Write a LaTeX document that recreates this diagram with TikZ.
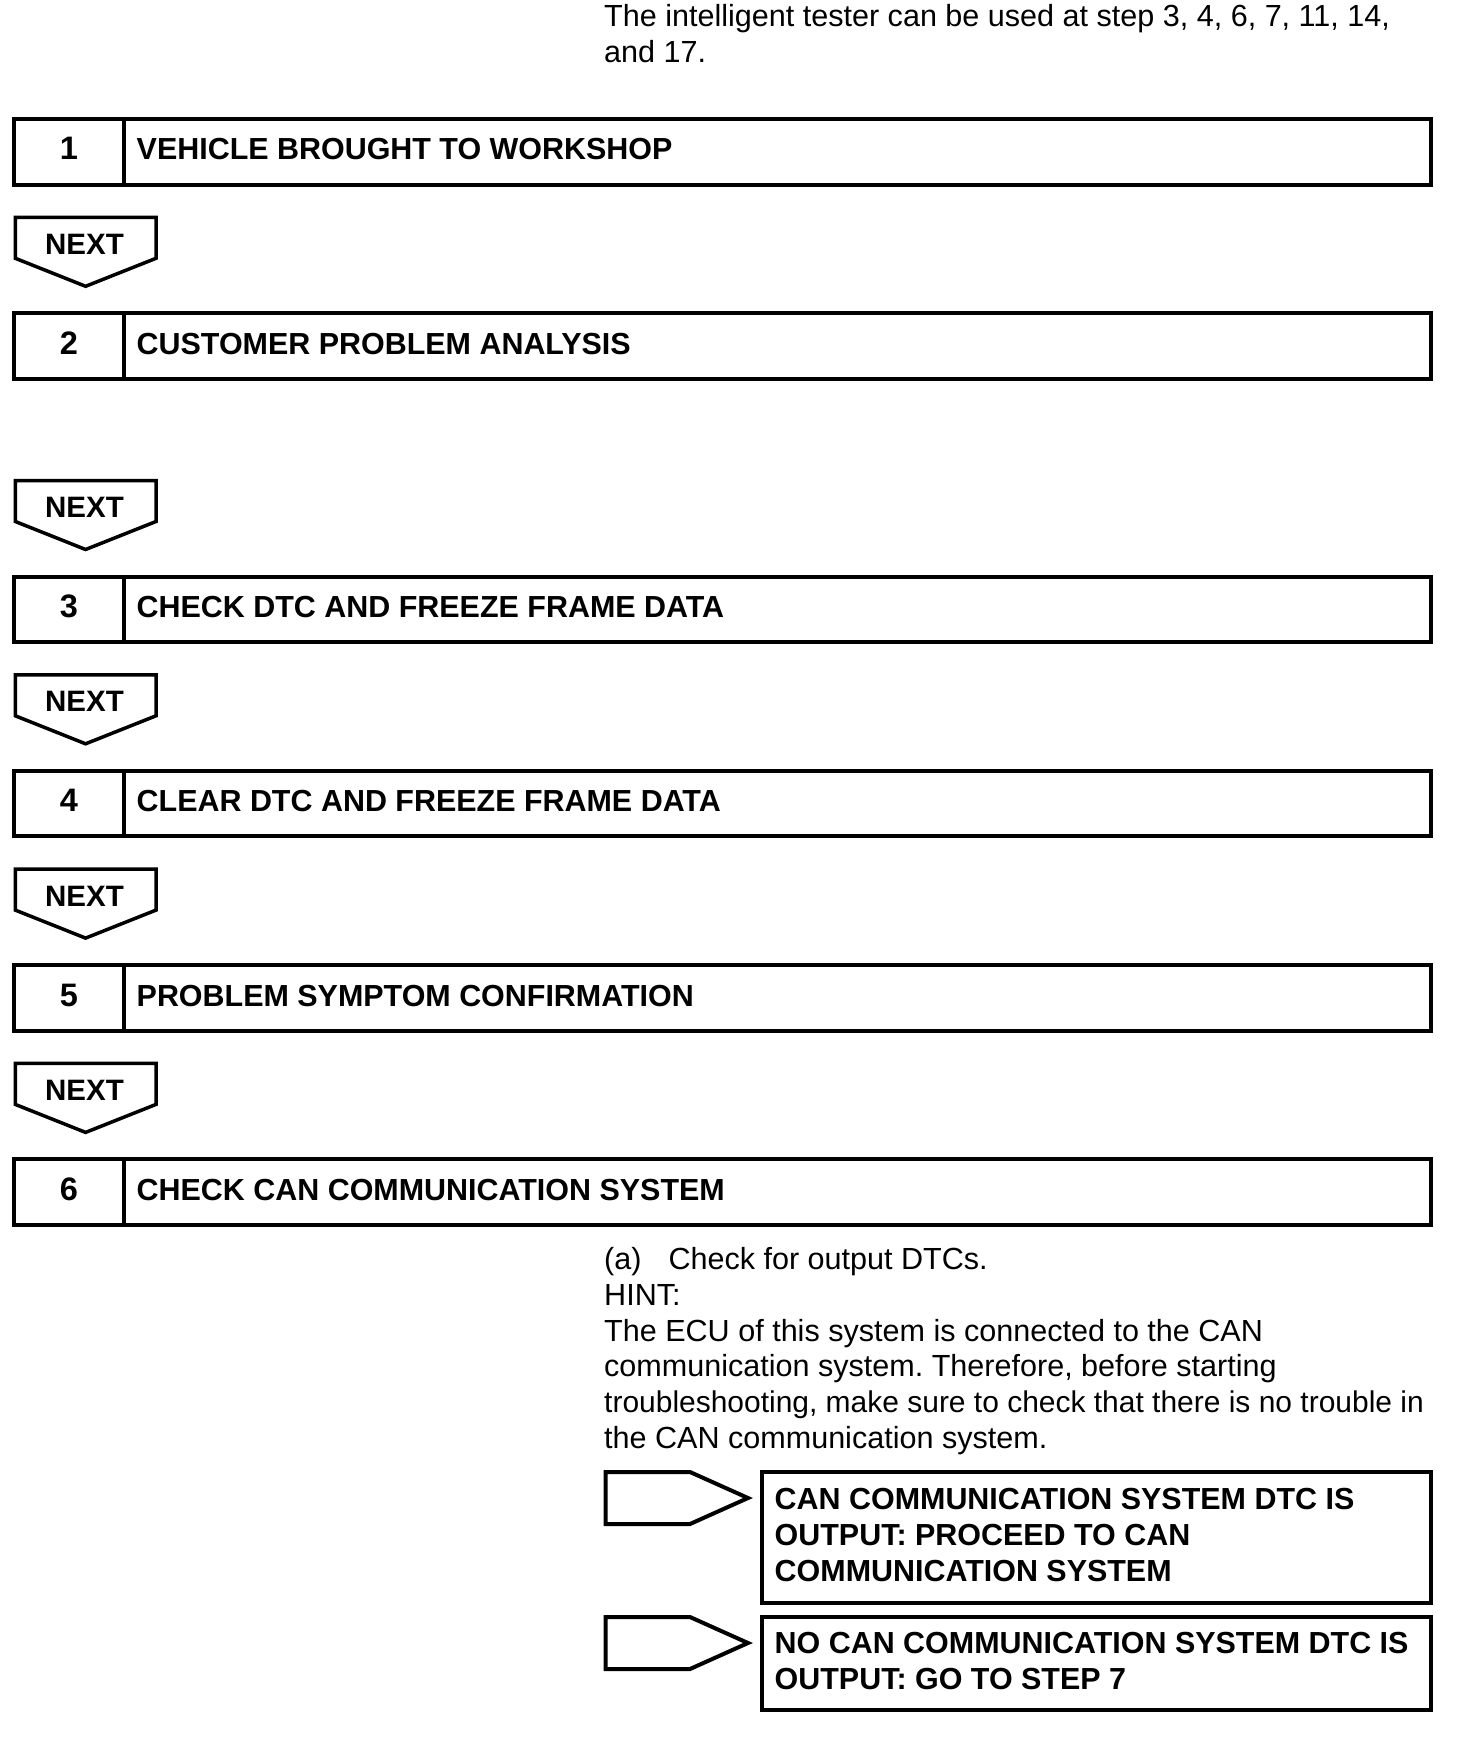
\documentclass[tikz,border=0pt]{standalone}
\usepackage{fontspec}
\setmainfont{Liberation Sans}
\frenchspacing
\newcommand\regfont{\fontsize{30.55}{36}\selectfont}
\newcommand\tightfont{\fontsize{29.97}{36}\selectfont}
\newcommand\boldfont{\bfseries\fontsize{30.45}{36}\selectfont}
\newcommand\numfont{\bfseries\fontsize{32.5}{36}\selectfont}
\newcommand\nextfont{\bfseries\fontsize{29.5}{32}\selectfont}
\tikzset{
  cellbox/.style={draw, line width=4pt, inner sep=0pt, outer sep=0pt, anchor=north west, minimum height=65.5pt},
  numcell/.style={cellbox, minimum width=109.7pt},
  titlecell/.style={cellbox, minimum width=1307.1pt},
  numtxt/.style={anchor=base, inner sep=0pt, font=\numfont},
  titletxt/.style={anchor=base west, inner sep=0pt, font=\boldfont},
  nextshape/.style={draw, line width=3.5pt, line join=miter},
  nexttxt/.style={anchor=base, inner sep=0pt, font=\nextfont},
  resshape/.style={draw, line width=4pt, line join=miter},
  resbox/.style={draw, line width=4pt, inner sep=0pt, outer sep=0pt, anchor=north west, minimum width=668.8pt},
  restxt/.style={anchor=base west, inner sep=0pt, font=\boldfont},
  plaintxt/.style={anchor=base west, inner sep=0pt, font=\regfont}
}
\newcommand\mystep[4]{%
  \node[numcell] (#1n) at (14,#4) {};
  \node[titlecell] (#1t) at (123.7,#4) {};
  \node[numtxt] (#1num) at (69,#4+41) {#2};
  \node[titletxt] (#1txt) at (136.5,#4+41) {#3};
}
\newcommand\mynext[2]{%
  \draw[nextshape] (15.3,#2) -- (156,#2) -- (156,#2+41) -- (85.6,#2+69) -- (15.3,#2+41) -- cycle;
  \node[nexttxt] (#1) at (84.5,#2+37) {NEXT};
}
\newcommand\myres[2]{%
  \draw[resshape] (605.7,#2) -- (690,#2) -- (748,#2+26) -- (690,#2+52) -- (605.7,#2+52) -- cycle;
  \coordinate (#1) at (748,#2+26);
}
\begin{document}
\begin{tikzpicture}[x=1pt,y=-1pt]
\useasboundingbox (0,0) rectangle (1472,1742);
% top note
\node[plaintxt] (note1) at (604,27) {The intelligent tester can be used at step 3, 4, 6, 7, 11, 14,};
\node[plaintxt] (note2) at (604,63) {and 17.};
% steps
\mystep{s1}{1}{VEHICLE BROUGHT TO WORKSHOP}{119}
\mynext{next1}{217.3}
\mystep{s2}{2}{CUSTOMER PROBLEM ANALYSIS}{313.3}
\mynext{next2}{480.5}
\mystep{s3}{3}{CHECK DTC AND FREEZE FRAME DATA}{576.5}
\mynext{next3}{674.8}
\mystep{s4}{4}{CLEAR DTC AND FREEZE FRAME DATA}{770.8}
\mynext{next4}{869.1}
\mystep{s5}{5}{PROBLEM SYMPTOM CONFIRMATION}{965.1}
\mynext{next5}{1063.4}
\mystep{s6}{6}{CHECK CAN COMMUNICATION SYSTEM}{1159.4}
% hint text
\node[plaintxt] (hint0) at (604,1269.5) {(a)\hspace{27pt}Check for output DTCs.};
\node[plaintxt] (hint1) at (604,1305.3) {HINT:};
\node[plaintxt] (hint2) at (604,1341.1) {The ECU of this system is connected to the CAN};
\node[plaintxt] (hint3) at (604,1376.9) {communication system. Therefore, before starting};
\node[plaintxt, font=\tightfont] (hint4) at (604,1412.7) {troubleshooting, make sure to check that there is no trouble in};
\node[plaintxt] (hint5) at (604,1448.5) {the CAN communication system.};
% results
\myres{r1}{1472}
\node[resbox, minimum height=131pt] (rb1) at (762,1472) {};
\node[restxt] (rt1a) at (774.5,1509.5) {CAN COMMUNICATION SYSTEM DTC IS};
\node[restxt] (rt1b) at (774.5,1545.7) {OUTPUT: PROCEED TO CAN};
\node[restxt] (rt1c) at (774.5,1581.9) {COMMUNICATION SYSTEM};
\myres{r2}{1617}
\node[resbox, minimum height=93pt] (rb2) at (762,1617) {};
\node[restxt] (rt2a) at (774.5,1653.9) {NO CAN COMMUNICATION SYSTEM DTC IS};
\node[restxt] (rt2b) at (774.5,1689.4) {OUTPUT: GO TO STEP 7};
\end{tikzpicture}
\end{document}
